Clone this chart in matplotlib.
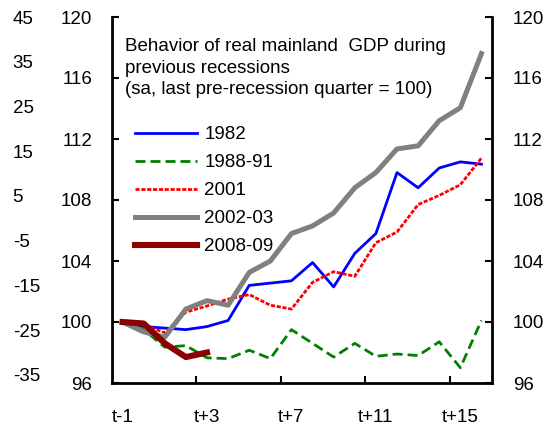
import matplotlib
matplotlib.use('Agg')
import matplotlib.pyplot as plt
from matplotlib.ticker import FixedLocator, NullFormatter

plt.rcParams['font.family'] = ['Liberation Sans', 'DejaVu Sans']
plt.rcParams['axes.unicode_minus'] = False
fs = 13.5

# quarters t-1 .. t+16
quarters = ['t-1'] + ['t+%d' % k for k in range(0, 17)]
tick_labels = ['t-1', 't+3', 't+7', 't+11', 't+15']

s1982 = [100, 99.7, 99.6, 99.5, 99.7, 100.1, 102.4, 102.55, 102.7, 103.9, 102.3, 104.5,
         105.8, 109.8, 108.8, 110.1, 110.5, 110.35]
s1988 = [100, 99.5, 98.35, 98.45, 97.65, 97.6, 98.15, 97.6, 99.5, 98.6, 97.7, 98.6,
         97.75, 97.9, 97.8, 98.7, 97.0, 100.1]
s2001 = [100, 99.8, 99.3, 100.65, 101.05, 101.5, 101.8, 101.1, 100.85, 102.6, 103.3, 103.0,
         105.2, 105.9, 107.7, 108.3, 109.0, 110.75]
s2002 = [100, 99.35, 99.0, 100.85, 101.4, 101.1, 103.25, 104.0, 105.8, 106.3, 107.15, 108.8,
         109.8, 111.35, 111.55, 113.2, 114.05, 117.6]
s2008 = [100, 99.9, 98.6, 97.7, 98.0]

x = list(range(len(quarters)))

fig = plt.figure(figsize=(5.5, 4.26), dpi=100)
ax = fig.add_axes([112/550, 43/426, 380/550, 366/426])

ax.plot(x, s1982, color='#0000FF', lw=2.0, label='1982')
ax.plot(x, s1988, color='#008000', lw=2.0, dashes=(3.6, 1.8), label='1988-91')
ax.plot(x, s2001, color='#FF0000', lw=2.0, dashes=(1.5, 0.6), label='2001')
ax.plot(x, s2002, color='#808080', lw=3.6, label='2002-03')
ax.plot(x[:len(s2008)], s2008, color='#8B0000', lw=4.4, label='2008-09')

ax.set_xlim(-0.5, len(quarters) - 0.5)
ax.set_ylim(96, 120)
ax.set_yticks(range(96, 121, 4))
ax.xaxis.set_major_locator(FixedLocator([3.5, 7.5, 11.5, 15.5]))
ax.xaxis.set_major_formatter(NullFormatter())
ax.xaxis.set_minor_locator(FixedLocator([0, 4, 8, 12, 16]))
ax.set_xticklabels(tick_labels, minor=True)
ax.tick_params(axis='x', which='major', direction='in', length=5, width=1.5)
ax.tick_params(axis='x', which='minor', length=0, pad=18.5, labelsize=fs)
ax.tick_params(axis='y', direction='in', length=5, width=1.5, pad=14.4, labelsize=fs)
for sp in ['left', 'bottom']:
    ax.spines[sp].set_linewidth(2)
ax.spines['top'].set_visible(False)
ax.spines['right'].set_visible(False)

# right axis
axr = ax.twinx()
axr.set_ylim(96, 120)
axr.set_yticks(range(96, 121, 4))
axr.tick_params(axis='y', direction='in', length=5, width=1.5, pad=15, labelsize=fs)
axr.spines['right'].set_linewidth(2)
axr.spines['top'].set_visible(False)
axr.spines['left'].set_visible(False)
axr.spines['bottom'].set_visible(False)

# outer left axis
axo = ax.twinx()
axo.set_ylim(-36.8, 45)
axo.set_yticks(range(-35, 46, 10))
axo.yaxis.tick_left()
axo.tick_params(axis='y', length=0, pad=71.5, labelsize=fs)
for lab in axo.get_yticklabels():
    lab.set_horizontalalignment('left')
for sp in axo.spines.values():
    sp.set_visible(False)

fig.text(125/550, 1 - 38/426,
         'Behavior of real mainland  GDP during\nprevious recessions\n(sa, last pre-recession quarter = 100)',
         fontsize=fs, va='top', ha='left', linespacing=1.35)

ax.legend(loc='upper left', bbox_to_anchor=(135/550, 1 - 126/426),
          bbox_transform=fig.transFigure, frameon=False, fontsize=fs,
          handlelength=3.3, handletextpad=0.4, labelspacing=0.58,
          borderpad=0, borderaxespad=0)

fig.savefig('out.png', dpi=100)
